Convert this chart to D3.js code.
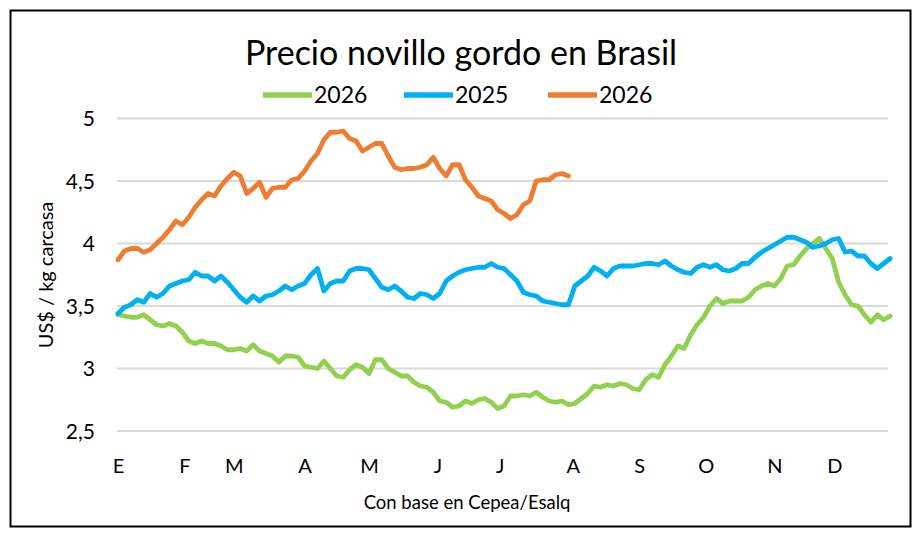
<!DOCTYPE html>
<html>
<head>
<meta charset="utf-8">
<script src="https://cdn.jsdelivr.net/npm/d3@7"></script>
<style>
  html, body { margin: 0; padding: 0; background: #fff; }
  svg { display: block; font-family: Lato, "Open Sans", sans-serif; }
</style>
</head>
<body>
<svg id="chart" width="922" height="537"></svg>
<script>
// ---- data (one sample every 3 days from 1 Jan) ----
const stepDays = 3;
const seriesNames = ["2026", "2025", "2026"];
const seriesColors = ["#92d050", "#00b0f0", "#ed7d31"];

const green2026 = [3.43,3.42,3.41,3.41,3.43,3.39,3.35,3.34,3.36,3.34,3.29,3.22,3.20,3.22,3.20,3.20,3.18,3.15,3.15,3.16,
  3.14,3.19,3.14,3.12,3.10,3.05,3.10,3.10,3.09,3.02,3.01,3.00,3.06,3.00,2.94,2.93,2.99,3.03,3.01,2.96,
  3.07,3.07,3.00,2.97,2.94,2.94,2.89,2.86,2.85,2.81,2.74,2.73,2.69,2.70,2.74,2.72,2.75,2.76,2.73,2.68,
  2.70,2.78,2.78,2.79,2.78,2.81,2.77,2.74,2.73,2.74,2.71,2.72,2.76,2.80,2.86,2.85,2.87,2.86,2.88,2.87,
  2.84,2.83,2.91,2.95,2.93,3.03,3.10,3.18,3.16,3.27,3.35,3.41,3.50,3.56,3.52,3.54,3.54,3.54,3.57,3.63,
  3.66,3.68,3.66,3.72,3.82,3.83,3.90,3.96,4.00,4.04,3.96,3.88,3.69,3.59,3.51,3.50,3.43,3.37,3.43,3.39,3.42];

const blue2025 = [3.44,3.49,3.51,3.55,3.53,3.60,3.57,3.60,3.66,3.68,3.70,3.71,3.77,3.74,3.74,3.70,3.74,3.69,3.63,3.57,
  3.53,3.58,3.54,3.58,3.59,3.62,3.66,3.63,3.66,3.68,3.75,3.80,3.62,3.68,3.70,3.70,3.78,3.80,3.80,3.79,
  3.72,3.65,3.63,3.66,3.62,3.57,3.56,3.60,3.59,3.56,3.60,3.70,3.74,3.77,3.79,3.80,3.81,3.81,3.84,3.81,
  3.80,3.75,3.70,3.61,3.59,3.58,3.54,3.53,3.52,3.51,3.51,3.66,3.70,3.74,3.81,3.78,3.74,3.80,3.82,3.82,
  3.82,3.83,3.84,3.84,3.83,3.86,3.82,3.79,3.77,3.76,3.81,3.83,3.81,3.83,3.79,3.78,3.80,3.84,3.84,3.89,
  3.93,3.96,3.99,4.02,4.05,4.05,4.03,4.01,3.97,3.98,4.00,4.03,4.04,3.93,3.94,3.90,3.90,3.84,3.80,3.84,3.88];

const orange2026 = [3.87,3.94,3.96,3.96,3.93,3.95,4.00,4.05,4.11,4.18,4.15,4.21,4.29,4.35,4.40,4.38,4.46,4.52,4.57,4.54,
  4.40,4.44,4.49,4.37,4.44,4.45,4.45,4.51,4.52,4.58,4.66,4.72,4.83,4.89,4.89,4.90,4.84,4.82,4.74,4.77,
  4.80,4.80,4.70,4.61,4.59,4.60,4.60,4.61,4.63,4.69,4.60,4.54,4.63,4.63,4.51,4.45,4.38,4.36,4.34,4.27,
  4.24,4.20,4.23,4.31,4.34,4.50,4.51,4.51,4.55,4.56,4.54];

const monthLabels = ["E","F","M","A","M","J","J","A","S","O","N","D"];
const monthLabelDays = [0, 31, 54, 87, 117, 149, 178, 212, 243, 274, 306, 334];
const yTicks = [2.5, 3, 3.5, 4, 4.5, 5];

const titleText = "Precio novillo gordo en Brasil";
const yTitle = "US$ / kg carcasa";
const sourceText = "Con base en Cepea/Esalq";

// ---- chart ----
const svg = d3.select("#chart");
const W = 922, H = 537;
const FONT = "Lato, 'Open Sans', sans-serif";

svg.append("rect").attr("x", 0).attr("y", 0).attr("width", W).attr("height", H).attr("fill", "#fff");
svg.append("rect").attr("x", 10.5).attr("y", 10.5).attr("width", 900).attr("height", 516)
  .attr("fill", "none").attr("stroke", "#000").attr("stroke-width", 2);

const x = d3.scaleLinear().domain([0, 359]).range([118, 888]);
const y = d3.scaleLinear().domain([2.5, 5]).range([431, 118.5]);

// gridlines
svg.append("g").selectAll("line").data(yTicks).join("line")
  .attr("x1", 117).attr("x2", 888)
  .attr("y1", d => y(d)).attr("y2", d => y(d))
  .attr("stroke", "#d9d9d9").attr("stroke-width", 2);

// y axis labels
const yAxis = d3.axisLeft(y).tickValues(yTicks).tickSize(0).tickPadding(0)
  .tickFormat(d => d3.format(",")(d).replace(".", ","));
const yg = svg.append("g").attr("transform", "translate(95,0)").call(yAxis);
yg.select(".domain").remove();
yg.selectAll("text").attr("font-size", 21).attr("fill", "#000")
  .attr("font-family", FONT).attr("dy", "0.35em");

// x axis labels
const xAxis = d3.axisBottom(x).tickValues(monthLabelDays).tickSize(0).tickPadding(0)
  .tickFormat((d, i) => monthLabels[i]);
const xg = svg.append("g").attr("transform", "translate(0,466)").call(xAxis);
xg.select(".domain").remove();
xg.selectAll("text").attr("font-size", 20).attr("fill", "#000")
  .attr("font-family", FONT).attr("dy", "0.35em");

// lines
const line = d3.line().x((d, i) => x(i * stepDays)).y(d => y(d)).curve(d3.curveLinear);
const series = [green2026, blue2025, orange2026];
svg.append("g").selectAll("path").data(series).join("path")
  .attr("d", d => line(d))
  .attr("fill", "none")
  .attr("stroke", (d, i) => seriesColors[i])
  .attr("stroke-width", 4.8)
  .attr("stroke-linejoin", "round")
  .attr("stroke-linecap", "round");

// title
svg.append("text").attr("x", 461).attr("y", 65).attr("text-anchor", "middle")
  .attr("font-size", 34).attr("fill", "#000").text(titleText);

// legend
const legendX = [263, 404, 548];
const lg = svg.append("g").selectAll("g").data(seriesNames).join("g")
  .attr("transform", (d, i) => `translate(${legendX[i]},95)`);
lg.append("line").attr("x1", 0).attr("x2", 49).attr("y1", 0).attr("y2", 0)
  .attr("stroke", (d, i) => seriesColors[i]).attr("stroke-width", 5.5);
lg.append("text").attr("x", 51).attr("y", 0).attr("dy", "0.36em")
  .attr("font-size", 23).attr("fill", "#000").text(d => d);

// y title
svg.append("text").attr("transform", "translate(53,275) rotate(-90)")
  .attr("text-anchor", "middle").attr("font-size", 20).attr("fill", "#000").text(yTitle);

// source
svg.append("text").attr("x", 467).attr("y", 509).attr("text-anchor", "middle")
  .attr("font-size", 18.5).attr("fill", "#000").text(sourceText);
</script>
</body>
</html>
